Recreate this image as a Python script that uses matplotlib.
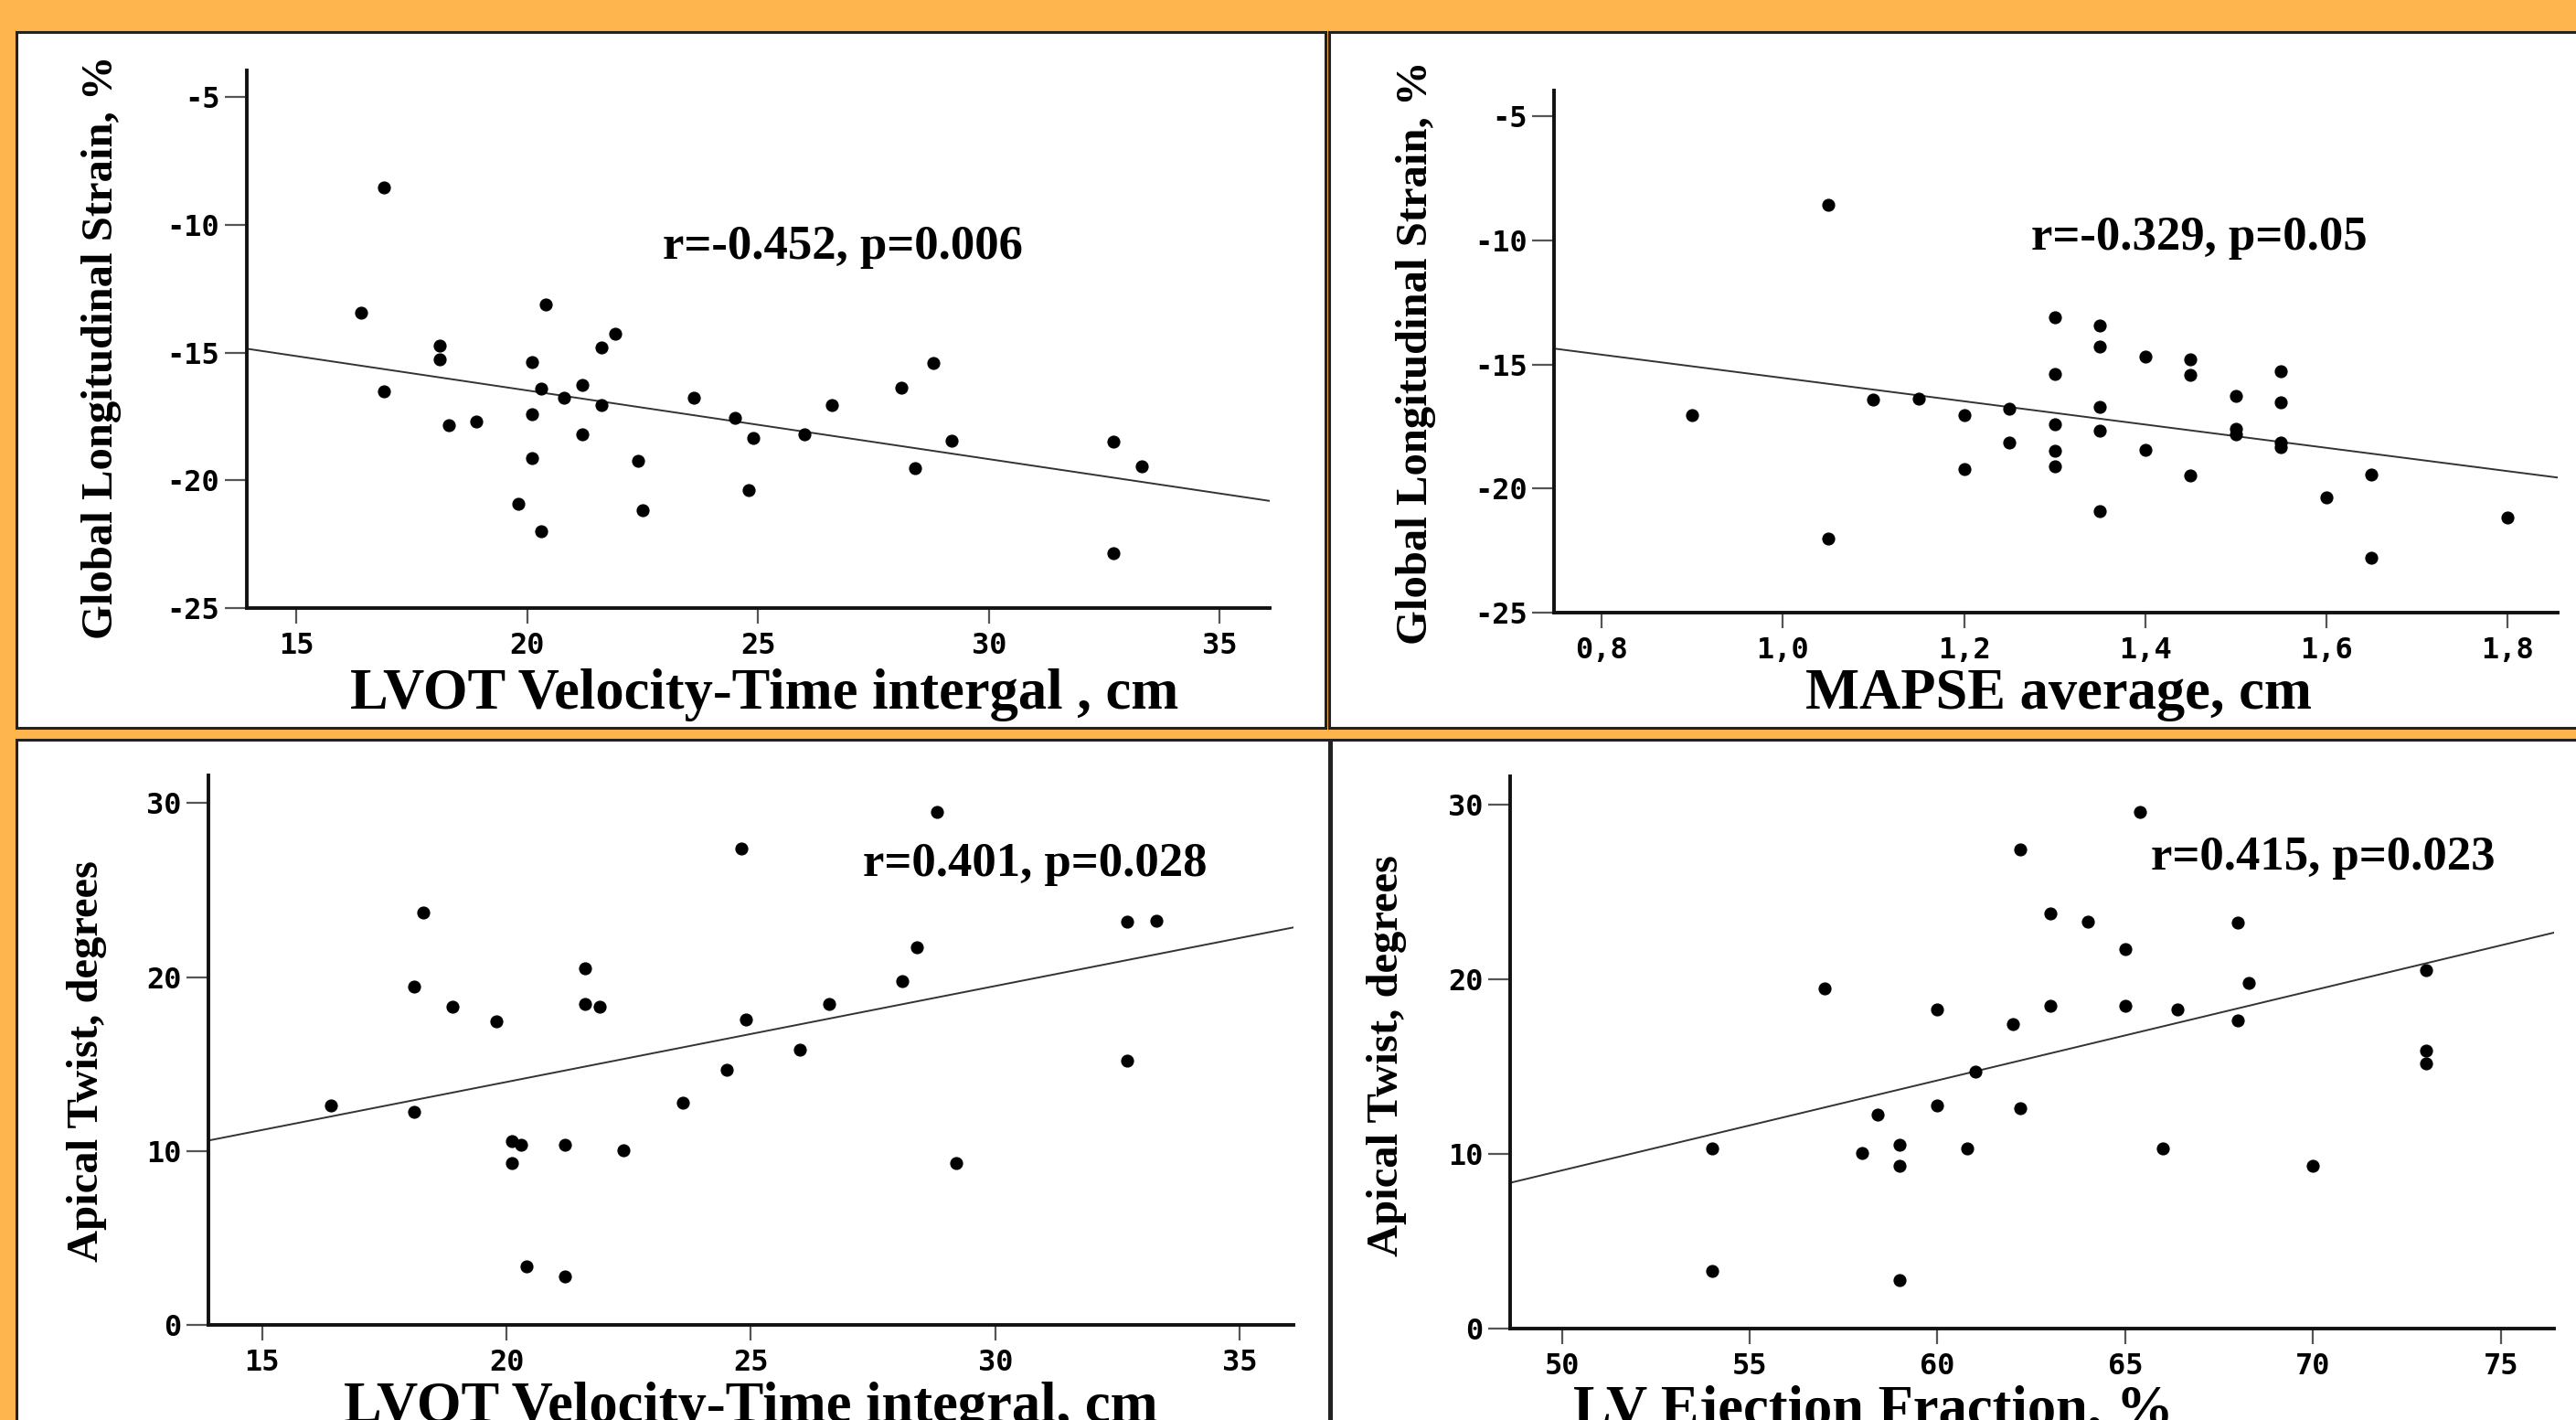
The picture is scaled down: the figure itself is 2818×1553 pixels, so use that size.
import matplotlib
matplotlib.use("Agg")
import matplotlib.pyplot as plt
from matplotlib.patches import Rectangle

# --- data ---
# top left: LVOT VTI vs global longitudinal strain
vti_a = [16.9, 16.4, 18.1, 18.1, 16.9, 18.3, 18.9, 20.1, 20.4, 20.3, 20.8, 20.1,
         20.1, 19.8, 20.3, 21.2, 21.6, 21.6, 21.9, 21.2, 22.4, 22.5, 23.6, 24.5,
         24.9, 24.8, 26.0, 26.6, 28.1, 28.8, 29.2, 28.4, 32.7, 33.3, 32.7]
gls_a = [-8.55, -13.43, -14.71, -15.26, -16.53, -17.84, -17.70, -15.36, -13.12,
         -16.40, -16.77, -17.42, -19.13, -20.92, -21.99, -16.26, -17.04, -14.80,
         -14.27, -18.19, -19.24, -21.16, -16.75, -17.57, -18.35, -20.39, -18.21,
         -17.04, -16.38, -15.42, -18.44, -19.52, -18.48, -19.44, -22.85]
fit_a = [-11.10, -0.269]  # intercept, slope

# top right: MAPSE vs global longitudinal strain
mapse = [1.05, 0.90, 1.05, 1.10, 1.15, 1.20, 1.20, 1.25, 1.25, 1.30, 1.30, 1.30,
         1.30, 1.30, 1.35, 1.35, 1.35, 1.35, 1.35, 1.40, 1.40, 1.45, 1.45, 1.45,
         1.50, 1.50, 1.50, 1.55, 1.55, 1.55, 1.55, 1.60, 1.65, 1.65, 1.80]
gls_b = [-8.57, -17.02, -22.00, -16.40, -16.36, -17.02, -19.22, -16.77, -18.16,
         -13.11, -15.37, -17.39, -18.48, -19.12, -13.43, -14.28, -16.70, -17.68,
         -20.89, -14.69, -18.43, -14.77, -15.40, -19.48, -16.25, -17.58, -17.81,
         -15.27, -16.51, -18.15, -18.33, -20.36, -19.44, -22.80, -21.15]
fit_b = [-10.85, -4.69]

# bottom left: LVOT VTI vs apical twist
vti_c = [16.4, 18.1, 18.3, 18.1, 18.9, 19.8, 20.1, 20.3, 20.1, 20.4, 21.2, 21.2,
         21.6, 21.6, 21.9, 22.4, 23.6, 24.5, 24.8, 24.9, 26.0, 26.6, 28.1, 28.4,
         28.8, 29.2, 32.7, 33.3, 32.7]
twist_c = [12.62, 12.27, 23.72, 19.47, 18.30, 17.43, 10.55, 10.38, 9.33, 3.35,
           10.38, 2.81, 20.52, 18.45, 18.30, 10.02, 12.78, 14.67, 27.40, 17.58,
           15.84, 18.45, 19.75, 21.70, 29.49, 9.33, 23.20, 23.23, 15.21]
fit_c = [2.93, 0.552]

# bottom right: LV ejection fraction vs apical twist
ef = [54.0, 54.0, 57.0, 58.0, 58.4, 59.0, 59.0, 59.0, 60.0, 60.0, 60.8, 61.0,
      62.0, 62.2, 62.2, 63.0, 63.0, 64.0, 65.0, 65.0, 65.4, 66.0, 66.4, 68.0,
      68.0, 68.3, 70.0, 73.0, 73.0, 73.0]
twist_d = [10.30, 3.29, 19.47, 10.02, 12.26, 10.53, 9.30, 2.78, 18.25, 12.77,
           10.32, 14.68, 17.41, 27.40, 12.59, 23.76, 18.46, 23.27, 21.72, 18.46,
           29.54, 10.32, 18.25, 23.25, 17.61, 19.76, 9.30, 20.52, 15.88, 15.19]
fit_d = [-16.70, 0.515]

gls_ticks = [-25, -20, -15, -10, -5]
gls_labels = ["-25", "-20", "-15", "-10", "-5"]
vti_ticks = [15, 20, 25, 30, 35]
vti_labels = ["15", "20", "25", "30", "35"]
mapse_ticks = [0.8, 1.0, 1.2, 1.4, 1.6, 1.8]
mapse_labels = ["0,8", "1,0", "1,2", "1,4", "1,6", "1,8"]
twist_ticks = [0, 10, 20, 30]
twist_labels = ["0", "10", "20", "30"]
ef_ticks = [50, 55, 60, 65, 70, 75]
ef_labels = ["50", "55", "60", "65", "70", "75"]

W, H = 2818, 1553
ORANGE = "#FEB54E"
serif = ["Liberation Serif", "DejaVu Serif"]
mono = ["DejaVu Sans Mono"]

fig = plt.figure(figsize=(W / 100, H / 100), dpi=100, facecolor=ORANGE)


def px_rect(x0, y0, x1, y1):
    return [x0 / W, 1 - y1 / H, (x1 - x0) / W, (y1 - y0) / H]


# white panel frames, kept behind the axes
for x0, y0, x1, y1 in [(18, 35, 1450, 796), (1454, 35, 2840, 796),
                       (18, 809, 1454, 1580), (1456, 809, 2840, 1580)]:
    r = px_rect(x0, y0, x1, y1)
    fig.patches.append(Rectangle((r[0], r[1]), r[2], r[3], transform=fig.transFigure,
                                 facecolor="white", edgecolor="#222222", linewidth=2.2,
                                 zorder=-10))

panels = [
    dict(box=(269.6, 77, 1389, 665), x=vti_a, y=gls_a, fit=fit_a,
         xlim=(13.92, 36.08), ylim=(-25, -3.95),
         xt=vti_ticks, xl=vti_labels, yt=gls_ticks, yl=gls_labels,
         xlabel="LVOT Velocity-Time intergal , cm", ylabel="Global Longitudinal Strain, %",
         xlab_pos=(0.506, -0.162), ylab_pos=(-0.142, 0.485),
         note="r=-0.452, p=0.006", note_pos=(0.583, 0.672)),
    dict(box=(1700, 99, 2798, 670), x=mapse, y=gls_b, fit=fit_b,
         xlim=(0.747, 1.856), ylim=(-25, -3.95),
         xt=mapse_ticks, xl=mapse_labels, yt=gls_ticks, yl=gls_labels,
         xlabel="MAPSE average, cm", ylabel="Global Longitudinal Strain, %",
         xlab_pos=(0.503, -0.158), ylab_pos=(-0.1375, 0.498),
         note="r=-0.329, p=0.05", note_pos=(0.643, 0.7175)),
    dict(box=(228, 848, 1415, 1449), x=vti_c, y=twist_c, fit=fit_c,
         xlim=(13.9, 36.1), ylim=(0, 31.6),
         xt=vti_ticks, xl=vti_labels, yt=twist_ticks, yl=twist_labels,
         xlabel="LVOT Velocity-Time integral, cm", ylabel="Apical Twist, degrees",
         xlab_pos=(0.4996, -0.152), ylab_pos=(-0.112, 0.4795),
         note="r=0.401, p=0.028", note_pos=(0.7616, 0.839)),
    dict(box=(1652, 849, 2794, 1453), x=ef, y=twist_d, fit=fit_d,
         xlim=(48.62, 76.42), ylim=(0, 31.6),
         xt=ef_ticks, xl=ef_labels, yt=twist_ticks, yl=twist_labels,
         xlabel="LV Ejection Fraction, %", ylabel="Apical Twist, degrees",
         xlab_pos=(0.3475, -0.151), ylab_pos=(-0.1178, 0.495),
         note="r=0.415, p=0.023", note_pos=(0.7785, 0.853)),
]

for p in panels:
    ax = fig.add_axes(px_rect(*p["box"]))
    ax.set_zorder(5)
    ax.set_facecolor("none")
    ax.scatter(p["x"], p["y"], s=85, color="black", zorder=3, clip_on=False)
    b0, b1 = p["fit"]
    ax.axline((0, b0), slope=b1, color="#333333", linewidth=1.4, zorder=2)
    ax.set_xlim(*p["xlim"])
    ax.set_ylim(*p["ylim"])
    for side in ("top", "right"):
        ax.spines[side].set_visible(False)
    for side in ("left", "bottom"):
        ax.spines[side].set_linewidth(2.8)
        ax.spines[side].set_color("#111111")
    ax.set_xticks(p["xt"])
    ax.set_xticklabels(p["xl"], family=mono, fontweight="bold", fontsize=23)
    ax.set_yticks(p["yt"])
    ax.set_yticklabels(p["yl"], family=mono, fontweight="bold", fontsize=23)
    ax.tick_params(axis="y", length=17, width=1.6, color="#555555", pad=4)
    ax.tick_params(axis="x", length=12, width=1.6, color="#555555", pad=7)
    ax.text(*p["xlab_pos"], p["xlabel"], transform=ax.transAxes, ha="center",
            va="center", family=serif, fontweight="bold", fontsize=45)
    ax.text(*p["ylab_pos"], p["ylabel"], transform=ax.transAxes, ha="center",
            va="center", rotation=90, family=serif, fontweight="bold", fontsize=35)
    ax.text(*p["note_pos"], p["note"], transform=ax.transAxes, ha="center",
            va="center", family=serif, fontweight="bold", fontsize=38)

fig.savefig("out.png", dpi=100, facecolor=ORANGE)
